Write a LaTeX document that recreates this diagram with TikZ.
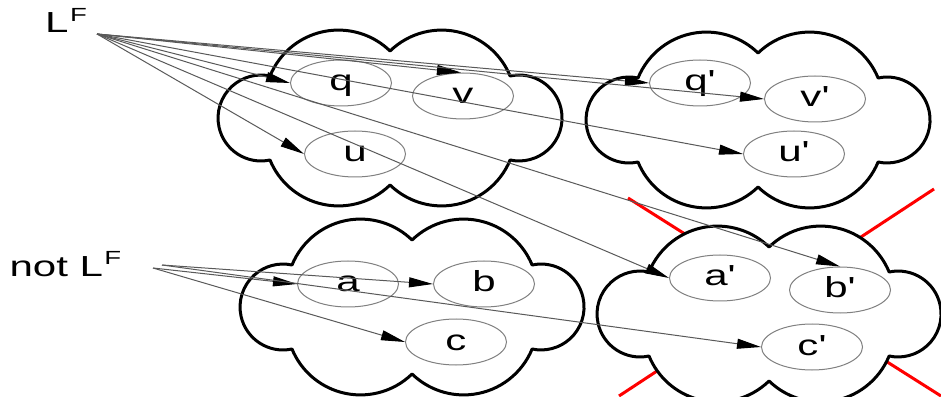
\documentclass[tikz,border=0pt]{standalone}
\usepackage{fontspec}
\setmainfont{Liberation Sans}
\usetikzlibrary{arrows.meta,shapes.geometric}
\newcommand\sx[1]{\scalebox{1.45}[1]{#1}}
\newcommand\primek{\textquotesingle}
\begin{document}
\begin{tikzpicture}[x=1pt,y=1pt,
  cloudline/.style={draw=black,line width=3pt,fill=white,line join=round},
  ell/.style={ellipse,draw=black!50,line width=1pt,minimum width=101pt,minimum height=46pt,
    inner sep=0pt,text height=16pt,text depth=0pt,font=\fontsize{29}{29}\selectfont},
  arr/.style={draw=black!65,line width=1pt,-{Triangle[length=24pt,width=10pt,color=black]}},
  redx/.style={draw=red,line width=3pt},
  lbl/.style={inner sep=0pt,anchor=base west,font=\fontsize{29}{29}\selectfont},
  cloudpic/.pic={
    \path[cloudline] (-120,42)
      arc[start angle=157.7,end angle=45.8,radius=74pt]
      arc[start angle=134.2,end angle=22.3,radius=74pt]
      arc[start angle=102.1,end angle=-102.1,radius=42.96pt]
      arc[start angle=-22.3,end angle=-134.2,radius=74pt]
      arc[start angle=-45.8,end angle=-157.7,radius=74pt]
      arc[start angle=-77.9,end angle=-282.1,radius=42.96pt] -- cycle;
  }]
\useasboundingbox (0,0) rectangle (941,396);

% red cross behind the lower right cloud
\coordinate (r1a) at (628,198); \coordinate (r1b) at (941,0);
\coordinate (r2a) at (934,207); \coordinate (r2b) at (619,0);
\draw[redx] (r1a) -- (r1b);
\draw[redx] (r2a) -- (r2b);

% clouds
\pic (cTL) at (390,278) {cloudpic};
\pic (cTR) at (758,276) {cloudpic};
\pic (cBL) at (412,89) {cloudpic};
\begin{scope}[shift={(769,82)},xscale=0.965]
  \pic (cBR) at (0,0) {cloudpic};
\end{scope}

% states
\node[ell] (q)  at (341,313) {\sx{q}};
\node[ell] (v)  at (463,300) {\sx{v}};
\node[ell] (u)  at (355,242) {\sx{u}};
\node[ell] (qp) at (700,313) {\sx{q\primek}};
\node[ell] (vp) at (815,297) {\sx{v\primek}};
\node[ell] (up) at (794,242) {\sx{u\primek}};
\node[ell] (a)  at (348,112) {\sx{a}};
\node[ell] (b)  at (484,112) {\sx{b}};
\node[ell] (c)  at (456,54)  {\sx{c}};
\node[ell] (ap) at (720,118) {\sx{a\primek}};
\node[ell] (bp) at (840,106) {\sx{b\primek}};
\node[ell] (cp) at (812,49)  {\sx{c\primek}};

% labels
\node[lbl] (LF) at (45,363) {\sx{L\kern1pt\raisebox{11pt}{\fontsize{19}{19}\selectfont F}}};
\node[lbl] (nLF) at (9.3,119) {\sx{not L\kern1pt\raisebox{12pt}{\fontsize{19}{19}\selectfont F}}};

\coordinate (lfo)  at (97,362);
\coordinate (nlo1) at (153,128);
\coordinate (nlo2) at (162,131);

% connectors
\draw[arr] (lfo) -- (q.west);
\draw[arr] (lfo) -- (u.west);
\draw[arr] (lfo) -- (v.95);
\draw[arr] (lfo) -- (qp.west);
\draw[arr] (lfo) -- (vp.west);
\draw[arr] (lfo) -- (up.west);
\draw[arr] (lfo) -- (ap.west);
\draw[arr] (lfo) -- (bp.north);
\draw[arr] (nlo1) -- (a.west);
\draw[arr] (nlo1) -- (c.west);
\draw[arr] (nlo2) -- (b.west);
\draw[arr] (nlo2) -- (cp.west);
\end{tikzpicture}
\end{document}
